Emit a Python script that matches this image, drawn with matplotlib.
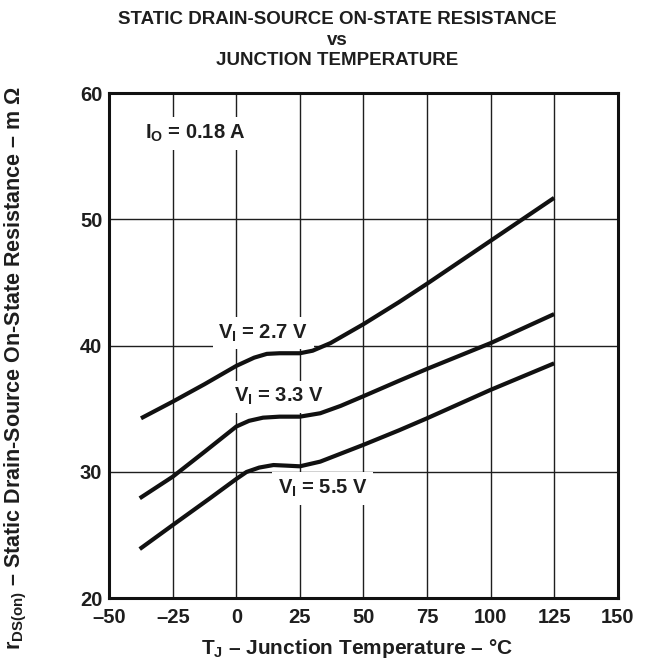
import matplotlib
matplotlib.use("Agg")
import matplotlib.pyplot as plt

# Junction temperature (°C) and on-state resistance (mΩ) for each gate voltage
t_27 = [-37.5, -25, -12.5, 0, 7, 12, 17, 25, 30, 37, 50, 64, 75, 100, 125]
r_27 = [34.25, 35.57, 36.95, 38.4, 39.05, 39.35, 39.4, 39.4, 39.6, 40.2, 41.7, 43.45, 44.9, 48.3, 51.7]

t_33 = [-38, -25, -12.5, 0, 5, 10.5, 17, 25, 33, 41, 50, 64, 75, 100, 125]
r_33 = [27.92, 29.63, 31.6, 33.6, 34.05, 34.3, 34.38, 34.38, 34.65, 35.23, 36.0, 37.22, 38.16, 40.2, 42.5]

t_55 = [-38, -25, -10.5, 0, 4, 9, 14.6, 20, 25, 33, 50, 64, 75, 100, 125]
r_55 = [23.9, 25.8, 27.9, 29.45, 30.0, 30.35, 30.55, 30.5, 30.45, 30.82, 32.15, 33.3, 34.25, 36.5, 38.6]

x_ticks = [-50, -25, 0, 25, 50, 75, 100, 125, 150]
x_tick_labels = ["–50", "–25", "0", "25", "50", "75", "100", "125", "150"]
y_ticks = [20, 30, 40, 50, 60]

plt.rcParams["font.family"] = ["Liberation Sans", "DejaVu Sans"]
plt.rcParams["font.weight"] = "bold"
plt.rcParams["mathtext.fontset"] = "custom"
plt.rcParams["mathtext.rm"] = "Liberation Sans:bold"
plt.rcParams["mathtext.it"] = "Liberation Sans:bold"
plt.rcParams["mathtext.bf"] = "Liberation Sans:bold"

INK = "#1e1e1e"

fig = plt.figure(figsize=(6.47, 6.62), dpi=100)
ax = fig.add_axes([0.1688, 0.0962, 0.7859, 0.7633])

line_kw = dict(color="#111111", lw=3.0, solid_capstyle="butt", zorder=4)
ax.plot(t_27, r_27, **line_kw)
ax.plot(t_33, r_33, **line_kw)
ax.plot(t_55, r_55, **line_kw)

ax.set_xlim(-50, 150)
ax.set_ylim(20, 60)
ax.set_xticks(x_ticks)
ax.set_xticklabels(x_tick_labels)
ax.set_yticks(y_ticks)
ax.tick_params(length=0, labelsize=14.5)
ax.tick_params(axis="x", pad=7)
ax.tick_params(axis="y", pad=5)
for lbl in ax.get_xticklabels() + ax.get_yticklabels():
    lbl.set_fontweight("bold")
    lbl.set_color(INK)

ax.set_axisbelow(True)
ax.grid(True, color=INK, lw=1.0)
for sp in ax.spines.values():
    sp.set_linewidth(2.2)
    sp.set_color("#111111")

box = dict(facecolor="white", edgecolor="none", pad=4)
text_kw = dict(fontsize=14.5, fontweight="bold", color=INK, ha="center",
               va="center", zorder=3, bbox=box)
ax.text(10.5, 41.0, "$V_I$ = 2.7 V", **text_kw)
ax.text(16.9, 35.95, "$V_I$ = 3.3 V", **text_kw)
ax.text(34.0, 28.7, "$V_I$ = 5.5 V", **text_kw)
ax.text(-16.1, 56.8, "$I_O$ = 0.18 A", **text_kw)

ax.set_xlabel("$T_J$ – Junction Temperature – °C", fontsize=15,
              fontweight="bold", color=INK)
ax.xaxis.set_label_coords(0.487, -0.077)
ax.set_ylabel("$r_{DS(on)}$ – Static Drain-Source On-State Resistance – m Ω",
              fontsize=15.5, fontweight="bold", color=INK)
ax.yaxis.set_label_coords(-0.158, 0.455)

title_kw = dict(ha="center", va="center", fontsize=13.5, fontweight="bold", color=INK)
fig.text(0.5217, 0.971, "STATIC DRAIN-SOURCE ON-STATE RESISTANCE", **title_kw)
fig.text(0.5217, 0.939, "vs", **title_kw)
fig.text(0.5217, 0.908, "JUNCTION TEMPERATURE", **title_kw)

fig.savefig("out.png", dpi=100)
